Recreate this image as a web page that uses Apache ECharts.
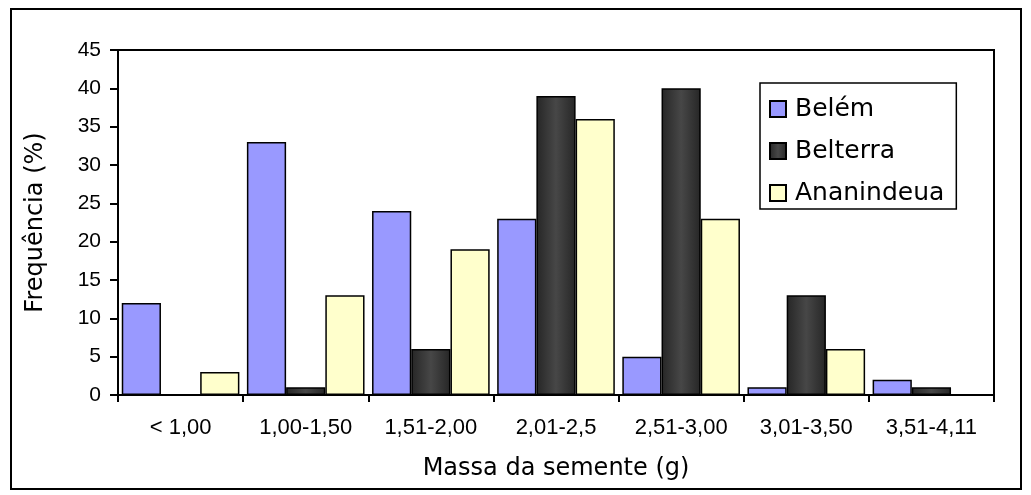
<!DOCTYPE html>
<html>
<head>
<meta charset="utf-8">
<script src="https://cdn.jsdelivr.net/npm/echarts@6/dist/echarts.min.js"></script>
<style>
  html, body { margin: 0; padding: 0; background: #fff; }
  #chart { width: 1031px; height: 495px; }
</style>
</head>
<body>
<div id="chart"></div>
<script>
const categories = ['< 1,00', '1,00-1,50', '1,51-2,00', '2,01-2,5', '2,51-3,00', '3,01-3,50', '3,51-4,11']
const belem = [12, 33, 24, 23, 5, 1, 2]
const belterra = [0, 1, 6, 39, 40, 13, 1]
const ananindeua = [3, 13, 19, 36, 23, 6, 0]

const chart = echarts.init(document.getElementById('chart'))

const barStyle = (color) => ({
  color: color,
  borderColor: '#000',
  borderWidth: 1.5
})

// dark bars in the original have a soft shaded look
const darkFill = new echarts.graphic.LinearGradient(0, 0, 1, 0, [
  { offset: 0, color: '#262626' },
  { offset: 0.5, color: '#474747' },
  { offset: 1, color: '#262626' }
])

const tickFont = 'Liberation Sans, Arial, sans-serif'

const option = {
  animation: false,
  textStyle: { fontFamily: 'DejaVu Sans, sans-serif', color: '#000' },
  graphic: [
    {
      type: 'rect',
      shape: { x: 11, y: 9, width: 1010, height: 480 },
      style: { fill: 'none', stroke: '#000', lineWidth: 2 }
    }
  ],
  grid: {
    left: 118, right: 37, top: 50, bottom: 100,
    show: true,
    borderColor: '#000',
    borderWidth: 2
  },
  legend: {
    orient: 'vertical',
    left: 760,
    top: 83,
    padding: [12, 12, 2, 9],
    itemGap: 14,
    itemWidth: 16,
    itemHeight: 16,
    borderColor: '#000',
    borderWidth: 1.5,
    backgroundColor: '#fff',
    textStyle: { fontSize: 25, lineHeight: 28, color: '#000', padding: [0, 0, 0, 4] },
    data: [
      { name: 'Belém', icon: 'rect' },
      { name: 'Belterra', icon: 'rect' },
      { name: 'Ananindeua', icon: 'rect' }
    ]
  },
  xAxis: {
    type: 'category',
    data: categories,
    name: 'Massa da semente (g)',
    nameLocation: 'middle',
    nameGap: 62,
    nameTextStyle: { fontSize: 24, color: '#000' },
    axisLine: { lineStyle: { color: '#000', width: 2 } },
    axisTick: { show: true, inside: false, length: 7, lineStyle: { color: '#000', width: 2 } },
    axisLabel: { fontSize: 22, fontFamily: tickFont, color: '#000', margin: 22 }
  },
  yAxis: {
    type: 'value',
    min: 0,
    max: 45,
    interval: 5,
    name: 'Frequência (%)',
    nameLocation: 'middle',
    nameGap: 70,
    nameTextStyle: { fontSize: 24, color: '#000' },
    axisLine: { show: true, lineStyle: { color: '#000', width: 2 } },
    axisTick: { show: true, length: 8, lineStyle: { color: '#000', width: 2 } },
    axisLabel: { fontSize: 21, fontFamily: tickFont, color: '#000', margin: 17 },
    splitLine: { show: false }
  },
  series: [
    {
      name: 'Belém',
      type: 'bar',
      data: belem,
      barGap: '0%',
      barCategoryGap: '6%',
      itemStyle: barStyle('#9999ff')
    },
    {
      name: 'Belterra',
      type: 'bar',
      data: belterra,
      itemStyle: barStyle(darkFill)
    },
    {
      name: 'Ananindeua',
      type: 'bar',
      data: ananindeua,
      itemStyle: barStyle('#ffffcc')
    }
  ]
}

chart.setOption(option)
window.addEventListener('resize', () => chart.resize())
</script>
</body>
</html>
